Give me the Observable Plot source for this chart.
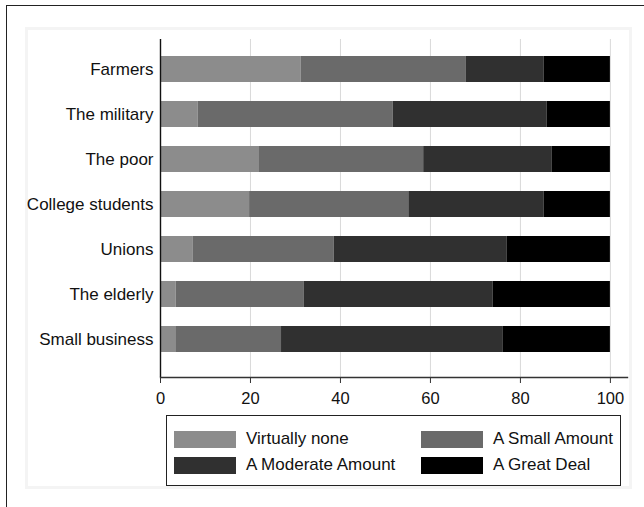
<!DOCTYPE html>
<html>
<head>
<meta charset="utf-8">
<script src="https://cdn.jsdelivr.net/npm/d3@7"></script>
<script src="https://cdn.jsdelivr.net/npm/@observablehq/plot@0.6"></script>
<style>
  html, body { margin: 0; padding: 0; background: #fff; }
  body { width: 644px; height: 507px; position: relative; overflow: hidden; font-family: "Liberation Sans", Arial, sans-serif; }
  #outer { position: absolute; left: 6px; top: 5px; width: 700px; height: 600px; border: 1.5px solid #222; box-sizing: border-box; }
  #inner { position: absolute; left: 25px; top: 27px; width: 607px; height: 462px; background: #fff; border: 3px solid #f4f4f4; box-sizing: border-box; }
  #chart { position: absolute; left: 0; top: 0; }
  #legend { position: absolute; left: 166px; top: 415px; width: 455px; height: 71px; border: 1.5px solid #222; background: #fff; box-sizing: border-box; }
  .item { position: absolute; display: flex; align-items: center; font-size: 17px; color: #111; height: 18px; }
  .sw { width: 62px; height: 17px; margin-right: 10px; flex: none; }
</style>
</head>
<body>
<div id="outer"></div>
<div id="inner"></div>
<div id="chart"></div>
<div id="legend"></div>
<script>
const groups = ["Farmers", "The military", "The poor", "College students", "Unions", "The elderly", "Small business"];
const levels = ["Virtually none", "A Small Amount", "A Moderate Amount", "A Great Deal"];
const colors = ["#8c8c8c", "#6a6a6a", "#303030", "#000000"];
const virtuallyNone   = [31.3, 8.4, 22.0, 19.8, 7.3, 3.5, 3.4];
const smallAmount     = [36.6, 43.3, 36.5, 35.4, 31.3, 28.4, 23.5];
const moderateAmount  = [17.4, 34.2, 28.5, 30.1, 38.4, 42.0, 49.2];
const greatDeal       = [14.7, 14.1, 13.0, 14.7, 23.0, 26.1, 23.9];
const xTicks = [0, 20, 40, 60, 80, 100];

const series = [virtuallyNone, smallAmount, moderateAmount, greatDeal];
const data = [];
groups.forEach((g, i) => {
  levels.forEach((l, j) => data.push({group: g, level: l, value: series[j][i]}));
});

const chart = Plot.plot({
  width: 644,
  height: 410,
  marginLeft: 160,
  marginRight: 17,
  marginTop: 39,
  marginBottom: 33,
  style: {fontFamily: "Liberation Sans, Arial, sans-serif", fontSize: "16px", color: "#111", background: "transparent"},
  x: {domain: [0, 103.8]},
  y: {domain: groups, range: [45.3, 363.2], paddingInner: 0.42, paddingOuter: 0.21},
  color: {domain: levels, range: colors},
  marks: [
    Plot.gridX(xTicks, {stroke: "#d9d9d9", strokeOpacity: 1, strokeWidth: 1}),
    Plot.barX(data, {x: "value", y: "group", fill: "level"}),
    Plot.ruleX([0], {stroke: "#111", strokeWidth: 1.4}),
    Plot.frame({anchor: "bottom", stroke: "#333", strokeWidth: 1.4}),
    Plot.axisX({ticks: xTicks, tickSize: 6, tickPadding: 9, fontSize: 16.5, label: null, stroke: "#333"}),
    Plot.axisY({tickSize: 0, tickPadding: 7, fontSize: 17, label: null})
  ]
});
document.getElementById("chart").appendChild(chart);

const legend = document.getElementById("legend");
const pos = [[7, 14], [254, 14], [7, 40], [254, 40]];
levels.forEach((l, i) => {
  const d = document.createElement("div");
  d.className = "item";
  d.style.left = pos[i][0] + "px";
  d.style.top = pos[i][1] + "px";
  const s = document.createElement("div");
  s.className = "sw";
  s.style.background = colors[i];
  d.appendChild(s);
  d.appendChild(document.createTextNode(l));
  legend.appendChild(d);
});
</script>
</body>
</html>
